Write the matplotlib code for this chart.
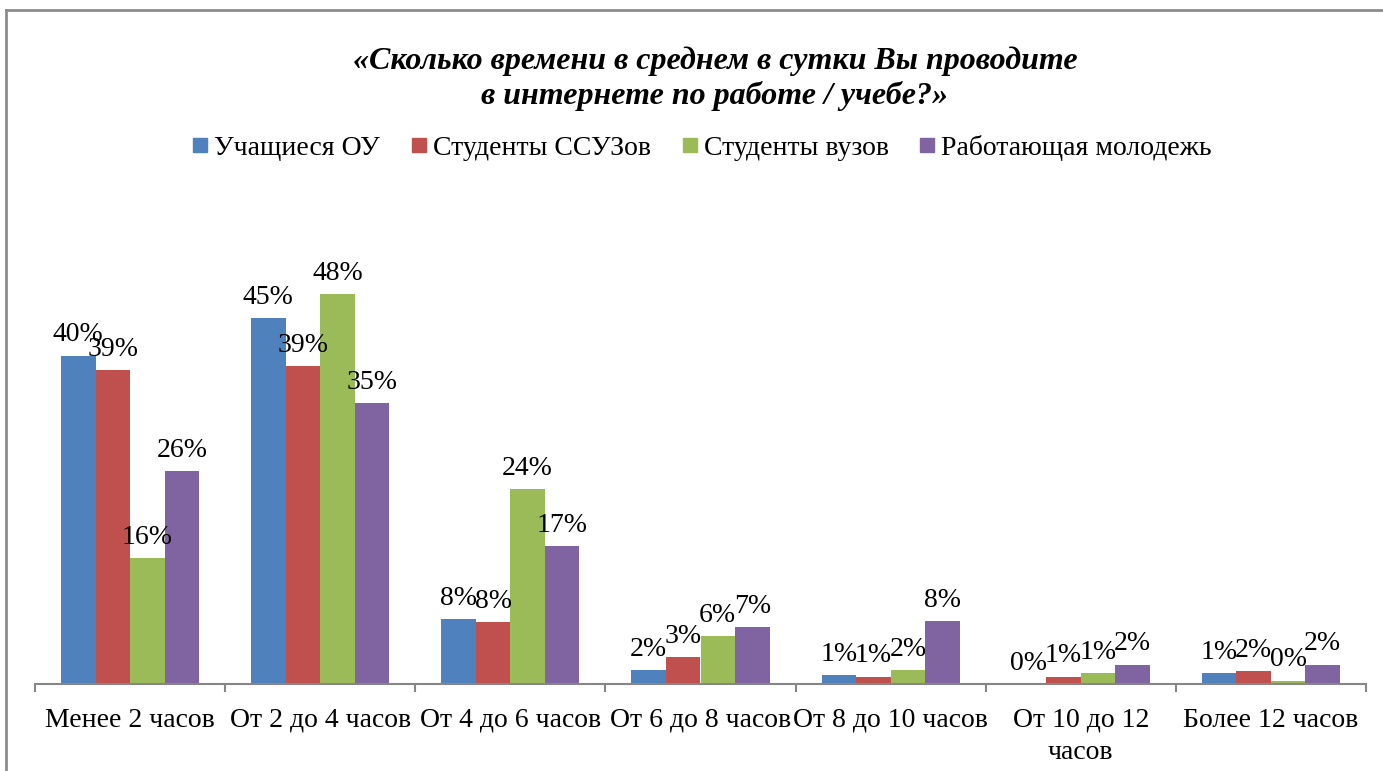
import matplotlib
matplotlib.use("Agg")
import matplotlib.pyplot as plt
from matplotlib.lines import Line2D
import numpy as np

categories = ["Менее 2 часов", "От 2 до 4 часов", "От 4 до 6 часов", "От 6 до 8 часов",
              "От 8 до 10 часов", "От 10 до 12\nчасов", "Более 12 часов"]
series_names = ["Учащиеся ОУ", "Студенты ССУЗов", "Студенты вузов", "Работающая молодежь"]
uchashchiesya = [40.4, 45.0, 8.0, 1.7, 1.1, 0.0, 1.35]
ssuz = [38.6, 39.1, 7.6, 3.3, 0.9, 0.9, 1.6]
vuz = [15.5, 48.0, 24.0, 5.9, 1.7, 1.35, 0.4]
molodezh = [26.2, 34.6, 17.0, 7.0, 7.75, 2.4, 2.4]
colors = ["#4F81BD", "#C0504D", "#9BBB59", "#8064A2"]

W, H = 1383, 771
fig = plt.figure(figsize=(W / 100, H / 100), dpi=100)
plt.rcParams['font.family'] = ['Liberation Serif', 'DejaVu Serif']

# axes placed in pixel coords: baseline at y=684, x 35..1366
ax = fig.add_axes([35 / W, 1 - 684 / H, (1366 - 35) / W, (684 - 200) / H])
ax.set_xlim(0, 7)
ax.set_ylim(0, 484 / 8.125)

x = np.arange(len(categories)) + 0.5
bw = 0.1816
data = [uchashchiesya, ssuz, vuz, molodezh]
for i, (vals, c, nm) in enumerate(zip(data, colors, series_names)):
    pos = x + (i - 1.5) * bw
    bars = ax.bar(pos, vals, bw, color=c, label=nm, edgecolor='none')
    for xx, v in zip(pos, vals):
        ax.annotate('%.0f%%' % v, (xx, v), xytext=(0, 6), textcoords='offset points',
                    ha='center', va='bottom', fontsize=20)

for s in ['top', 'right', 'left']:
    ax.spines[s].set_visible(False)
ax.spines['bottom'].set_color('#868686')
ax.spines['bottom'].set_linewidth(1.5)
ax.set_yticks([])
ax.set_xticks(np.arange(0, 8))
ax.set_xticklabels([])
ax.tick_params(axis='x', which='major', length=6, width=1.5, color='#868686')
ax.set_xticks(x, minor=True)
ax.set_xticklabels(categories, minor=True, fontsize=20, linespacing=1.4)
ax.tick_params(axis='x', which='minor', length=0, pad=17)

fig.text(715 / W, 1 - 79 / H, "«Сколько времени в среднем в сутки Вы проводите\nв интернете по работе / учебе?»",
         ha='center', va='center', fontsize=23, fontweight='bold', fontstyle='italic',
         linespacing=1.22)

handles = [Line2D([], [], marker='s', linestyle='none', markersize=10, color=c) for c in colors]
fig.legend(handles, series_names, loc='center', bbox_to_anchor=(702 / W, 1 - 148 / H), ncol=4,
           frameon=False, fontsize=20, handlelength=0.6, handletextpad=0.2, columnspacing=1.1)

# outer frame (left and top only)
fig.add_artist(Line2D([6 / W, 6 / W], [0, 1 - 10 / H], color='#8c8c8c', lw=2, transform=fig.transFigure))
fig.add_artist(Line2D([6 / W, 1], [1 - 10 / H, 1 - 10 / H], color='#8c8c8c', lw=2, transform=fig.transFigure))

fig.savefig("out.png", dpi=100)
